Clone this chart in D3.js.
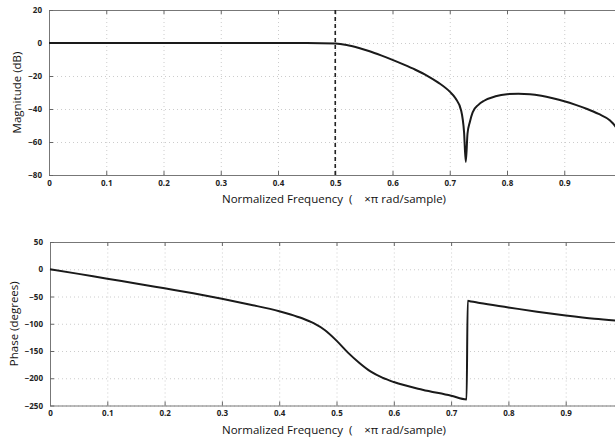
<!DOCTYPE html>
<html>
<head>
<meta charset="utf-8">
<script src="https://cdn.jsdelivr.net/npm/d3@7"></script>
<style>
body { margin: 0; background: #fff; }
svg { display: block; }
.tick text { font-family: "Open Sans", sans-serif; font-size: 8px; font-weight: bold; fill: #222; }
.label { font-family: "Open Sans", sans-serif; font-size: 11.5px; fill: #111; white-space: pre; }
</style>
</head>
<body>
<div class="chart"></div>
<script>
// normalized frequency ticks (x pi rad/sample)
var freqTicks = [0, 0.1, 0.2, 0.3, 0.4, 0.5, 0.6, 0.7, 0.8, 0.9, 1];
var freqLabels = [0, 0.1, 0.2, 0.3, 0.4, 0.5, 0.6, 0.7, 0.8, 0.9];
var magTicks = [20, 0, -20, -40, -60, -80];
var phaseTicks = [50, 0, -50, -100, -150, -200, -250];
var cutoffFreq = [0.5];

// magnitude response
var magFreq = [0, 0.1, 0.2, 0.3, 0.4, 0.45, 0.5, 0.52, 0.54, 0.56, 0.58, 0.6, 0.62, 0.64, 0.66, 0.68,
    0.7, 0.71, 0.72, 0.725, 0.728, 0.731, 0.735, 0.74, 0.75, 0.76, 0.78, 0.8, 0.82, 0.84, 0.86,
    0.88, 0.9, 0.92, 0.94, 0.96, 0.98, 0.99, 1];
var magDb = [0, 0, 0, 0, 0, 0, -0.3, -1.2, -2.9, -5, -7.5, -10.2, -13.1, -16.2, -19.7, -24,
    -29.5, -33.5, -41, -54, -72, -55, -48, -42, -37.5, -35, -32.3, -31, -30.7, -31, -32,
    -33.5, -35.3, -37.5, -40, -43, -47, -51, -60];

// phase response
var phaseFreq = [0, 0.05, 0.1, 0.15, 0.2, 0.25, 0.3, 0.35, 0.4, 0.42, 0.44, 0.46, 0.48, 0.5, 0.52,
    0.54, 0.56, 0.58, 0.6, 0.65, 0.7, 0.727, 0.729, 0.735, 0.75, 0.8, 0.85, 0.9, 0.95, 1];
var phaseDeg = [0, -8.5, -17.5, -26, -35, -44, -54, -65, -77, -83, -90, -99, -112, -131, -153,
    -172, -188, -199, -207, -221, -232, -239, -58, -59, -62, -70, -78, -85, -91, -95];

var width = 615;
var height = 439;

var svg = d3.select(".chart")
            .append("svg")
            .attr("width", width)
            .attr("height", height);

var renderPanel = function(opts) {
    var left = opts.left, top = opts.top, right = opts.right, bottom = opts.bottom;

    var x = d3.scaleLinear().domain([0, 1]).range([left, right]);
    var y = d3.scaleLinear().domain([opts.yTicks[opts.yTicks.length - 1], opts.yTicks[0]])
                .range([bottom, top]);

    var g = svg.append("g");

    // dotted grid
    g.append("g")
        .attr("transform", "translate(0," + bottom + ")")
        .call(d3.axisBottom(x).tickValues(freqTicks).tickSize(-(bottom - top)).tickFormat(""))
        .call(function(s) {
            s.select(".domain").remove();
            s.selectAll("line").attr("stroke", "#ccc").attr("stroke-dasharray", "1,3");
        });
    g.append("g")
        .attr("transform", "translate(" + left + ",0)")
        .call(d3.axisLeft(y).tickValues(opts.yTicks).tickSize(-(right - left)).tickFormat(""))
        .call(function(s) {
            s.select(".domain").remove();
            s.selectAll("line").attr("stroke", "#ccc").attr("stroke-dasharray", "1,3");
        });

    // box axes, ticks pointing in
    g.append("g")
        .attr("transform", "translate(0," + top + ")")
        .call(d3.axisTop(x).tickValues(freqTicks).tickSize(-4).tickSizeOuter(0).tickFormat(""));
    g.append("g")
        .attr("transform", "translate(0," + bottom + ")")
        .call(d3.axisBottom(x).tickValues(freqTicks).tickSize(-4).tickSizeOuter(0).tickFormat(""));
    g.append("g")
        .attr("transform", "translate(0," + bottom + ")")
        .call(d3.axisBottom(x).tickValues(freqLabels).tickSize(0).tickPadding(5)
            .tickFormat(function(d) { return String(d); }))
        .call(function(s) { s.select(".domain").remove(); });
    g.append("g")
        .attr("transform", "translate(" + left + ",0)")
        .call(d3.axisLeft(y).tickValues(opts.yTicks).tickSize(-4).tickSizeOuter(0).tickPadding(7));

    g.selectAll(".domain").attr("stroke", "#777");
    g.selectAll(".tick line").filter(function() { return !this.getAttribute("stroke-dasharray"); })
        .attr("stroke", "#666");

    if (opts.marker) {
        g.selectAll(".cutoff")
            .data(opts.marker)
            .enter().append("line")
            .attr("class", "cutoff")
            .attr("x1", function(d) { return x(d); })
            .attr("x2", function(d) { return x(d); })
            .attr("y1", top)
            .attr("y2", bottom)
            .attr("stroke", "#222")
            .attr("stroke-width", 1.6)
            .attr("stroke-dasharray", "4,3");
    }

    var line = d3.line()
                .x(function(d, i) { return x(opts.xs[i]); })
                .y(function(d) { return y(d); })
                .curve(d3.curveMonotoneX);

    g.append("path")
        .datum(opts.ys)
        .attr("d", line)
        .attr("fill", "none")
        .attr("stroke", "#1a1a1a")
        .attr("stroke-width", 2);

    g.append("text")
        .attr("class", "label")
        .attr("x", 334)
        .attr("y", bottom + 28)
        .attr("text-anchor", "middle")
        .text("Normalized Frequency  (    \u00d7\u03c0 rad/sample)");

    g.append("text")
        .attr("class", "label")
        .attr("transform", "translate(" + opts.labelX + "," + ((top + bottom) / 2) + ") rotate(-90)")
        .attr("text-anchor", "middle")
        .text(opts.yLabel);
};

renderPanel({
    left: 49, top: 10, right: 621.5, bottom: 175,
    yTicks: magTicks, xs: magFreq, ys: magDb,
    marker: cutoffFreq, yLabel: "Magnitude (dB)", labelX: 21
});

renderPanel({
    left: 50, top: 242, right: 623, bottom: 405.5,
    yTicks: phaseTicks, xs: phaseFreq, ys: phaseDeg,
    yLabel: "Phase (degrees)", labelX: 18
});
</script>
</body>
</html>
